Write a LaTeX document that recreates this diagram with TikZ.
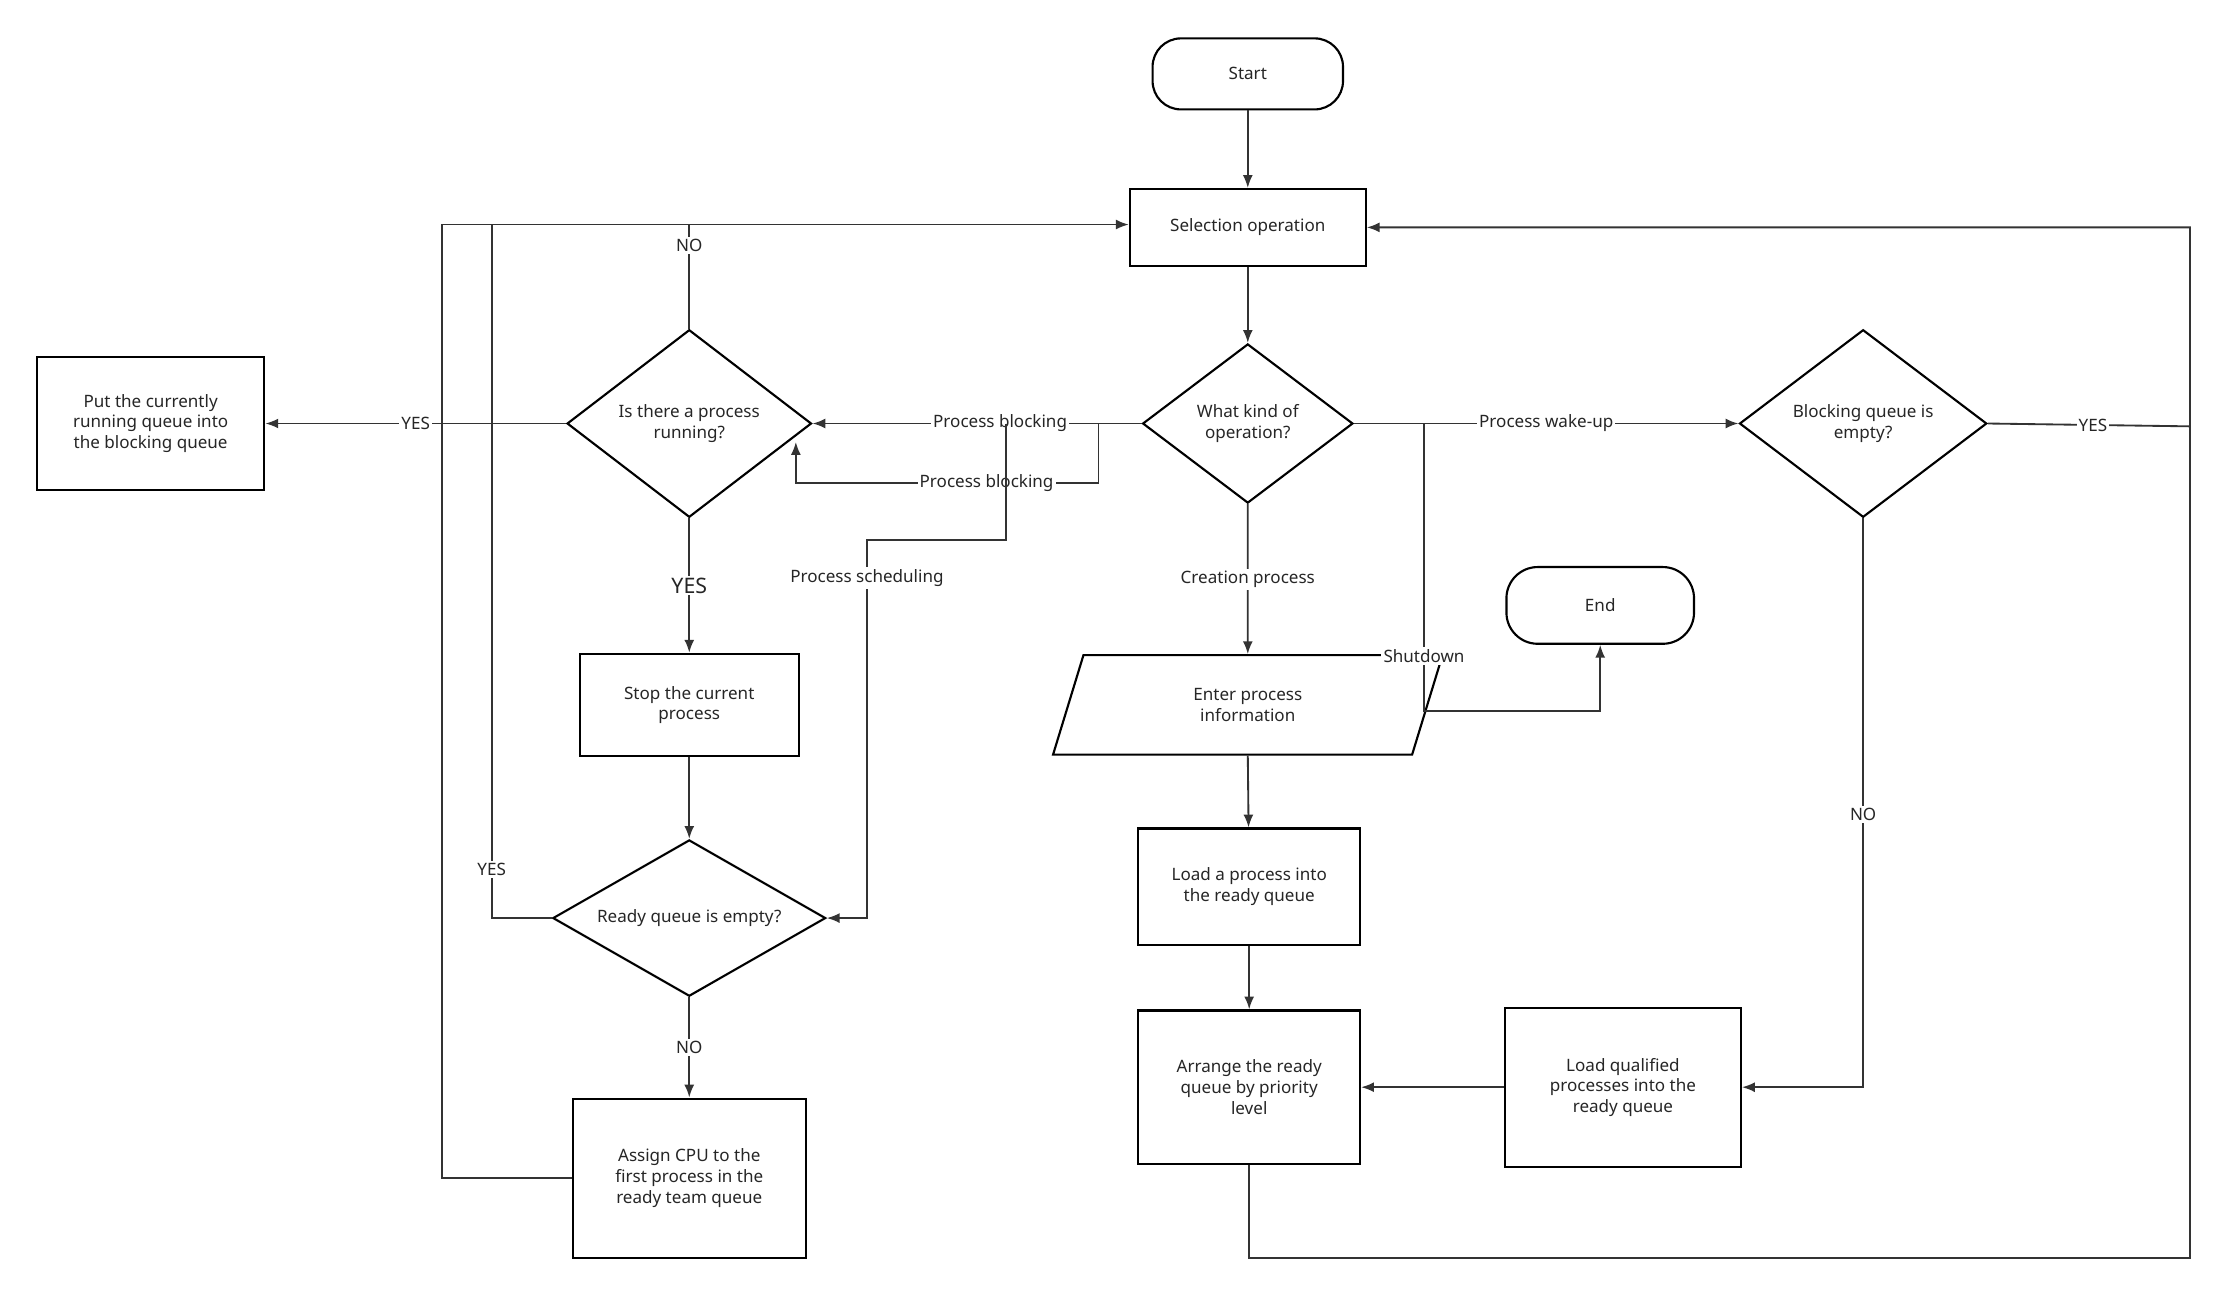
\documentclass[tikz,border=0pt]{standalone}
\usepackage{fontspec}
\setmainfont{Noto Sans}
\usetikzlibrary{shapes.geometric,arrows.meta}
\begin{document}
\begin{tikzpicture}[x=1pt,y=-1pt,
  every node/.style={font=\fontsize{12}{14.5}\selectfont,align=center,text=black!85},
  box/.style={draw,line width=1.5pt,minimum width=#1},
  dia/.style={draw,diamond,aspect=1.3,line width=1.5pt,inner sep=1pt},
  ln/.style={line width=1.3pt,draw=black!80},
  ar/.style={ln,-{Latex[length=9pt,width=7pt]}},
  lab/.style={fill=white,inner sep=1.5pt}]
\useasboundingbox (0,0) rectangle (1560,907);
\node[box=134pt,minimum height=50pt,rounded corners=20pt] (start) at (878,52) {Start};
\node[box=166pt,minimum height=54pt] (sel) at (878,160) {Selection operation};
\node[dia,minimum width=148pt,minimum height=112pt] (kind) at (878,298) {What kind of\\operation?};
\node[dia,minimum width=172pt,minimum height=132pt] (run) at (485,298) {Is there a process\\running?};
\node[box=160pt,minimum height=94pt] (put) at (106,298) {Put the currently\\running queue into\\the blocking queue};
\node[box=154pt,minimum height=72pt] (stop) at (485,496) {Stop the current\\process};
\node[dia,minimum width=192pt,minimum height=110pt,aspect=1.75] (ready) at (485,646) {Ready queue is empty?};
\node[box=164pt,minimum height=112pt] (cpu) at (485,829) {Assign CPU to the\\first process in the\\ready team queue};
\node[draw,line width=1.5pt,trapezium,trapezium left angle=73,trapezium right angle=107,minimum width=176pt,minimum height=70pt,inner sep=0pt] (enter) at (878,496) {Enter process\\information};
\node[box=156pt,minimum height=82pt] (load) at (879,624) {Load a process into\\the ready queue};
\node[box=156pt,minimum height=108pt] (arr) at (879,765) {Arrange the ready\\queue by priority\\level};
\node[box=166pt,minimum height=112pt] (lq) at (1142,765) {Load qualified\\processes into the\\ready queue};
\node[box=132pt,minimum height=54pt,rounded corners=22pt] (end) at (1126,426) {End};
\node[dia,minimum width=174pt,minimum height=132pt] (blk) at (1311,298) {Blocking queue is\\empty?};
\coordinate (tl) at (311,158);
\draw[ar] (start) -- (sel);
\draw[ar] (sel) -- (kind);
\draw[ar] (kind.west) -- node[lab,pos=0.43]{Process blocking} (run.east);
\draw[ar] (773,298) -- (773,340) -- node[lab,pos=0.37]{Process blocking} (560,340) -- (560,311);
\draw[ar] (708,298) -- (708,380) -- (610,380) -- node[lab,pos=0.1]{Process scheduling} (610,646) -- (ready.east);
\draw[ar] (kind.east) -- node[lab,pos=0.5]{Process wake-up} (blk.west);
\draw[ar] (1002,298) -- node[lab,pos=0.81]{Shutdown} (1002,500) -- (1126,500) -- (end.south);
\draw[ar] (kind.south) -- node[lab]{Creation process} (enter.north);
\draw[ar] (enter.south) -- (load);
\draw[ar] (load) -- (arr);
\draw[ar] (lq) -- (arr);
\draw[ar] (blk.south) -- node[lab,pos=0.52]{NO} (1311,765) -- (lq.east);
\draw[ar] (blk.east) -- node[lab,pos=0.52]{YES} (1541,300) -- (1541,160) -- (sel.east);
\draw[ln] (arr.south) -- (879,885) -- (1541,885) -- (1541,300);
\draw[ar] (run.north) -- node[lab,pos=0.8]{NO} (485,158) -- (sel.west |- 0,158);
\draw[ln] (cpu.west) -- (311,829) -- (tl) -- (485,158);
\draw[ln] (ready.west) -- (346,646) -- node[lab,pos=0.07]{YES} (346,158);
\draw[ar] (run.west) -- node[lab]{YES} (put.east);
\draw[ar] (run.south) -- node[lab,font=\fontsize{15}{17}\selectfont]{YES} (stop.north);
\draw[ar] (stop) -- (ready.north);
\draw[ar] (ready.south) -- node[lab]{NO} (cpu.north);
\end{tikzpicture}
\end{document}
